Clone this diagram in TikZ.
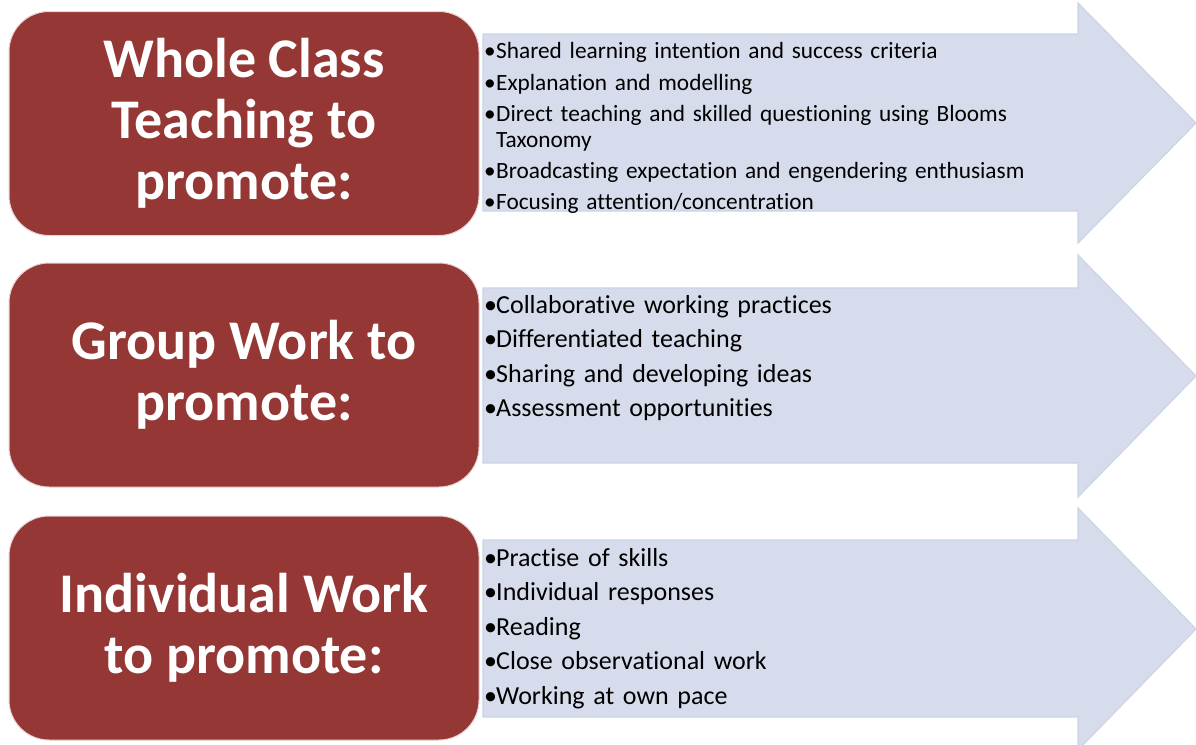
\documentclass[tikz,border=0pt]{standalone}
\usepackage{fontspec}
\setmainfont{Carlito}[Ligatures=NoCommon]
\definecolor{boxred}{HTML}{953735}
\definecolor{boxedge}{HTML}{E8D2D2}
\definecolor{arrowfill}{HTML}{D6DCEB}
\definecolor{arrowedge}{HTML}{CCD4E6}
\newlength\bulw
\setlength\bulw{12pt}
\newcommand{\bitem}[1]{\par\hangindent=\bulw\hangafter=1\noindent\makebox[\bulw][l]{•}#1}
\begin{document}
\begin{tikzpicture}[x=1pt,y=-1pt,
  titlebox/.style={draw=boxedge, line width=1pt, fill=boxred, rounded corners=40pt,
    minimum width=470pt, minimum height=224pt, text=white, align=center,
    font=\fontsize{56}{61}\selectfont\bfseries},
  arrowshape/.style={fill=arrowfill, draw=arrowedge, line width=1.2pt, line join=miter},
  listtext/.style={anchor=north west, inner sep=0pt, text width=560pt, align=left}]
\useasboundingbox (0,0) rectangle (1196,744);
\fill[white] (0,0) rectangle (1196,744);
% arrows
\begin{scope}
\clip (0,0) rectangle (1196,744);
\draw[arrowshape] (483,34) -- (1078,34) -- (1078,3) -- (1196,123) -- (1078,243) -- (1078,211) -- (483,211) -- cycle;
\draw[arrowshape] (483,288) -- (1078,288) -- (1078,255) -- (1196,376) -- (1078,497) -- (1078,463) -- (483,463) -- cycle;
\draw[arrowshape] (483,540) -- (1078,540) -- (1078,508) -- (1196,629) -- (1078,750) -- (1078,717) -- (483,717) -- cycle;
\end{scope}
% title boxes
\node[titlebox] (t1) at (244,123.5) {Whole Class\\Teaching to\\promote:};
\node[titlebox] (t2) at (244,375) {Group Work to\\promote:};
\node[titlebox] (t3) at (244,628) {Individual Work\\to promote:};
% lists
\node[listtext, font=\fontsize{23.3}{26}\selectfont] (l1) at (484,27.5) {\setlength\parskip{5.2pt}%
\bitem{Shared learning intention and success criteria}
\bitem{Explanation and modelling}
\bitem{Direct teaching and skilled questioning using Blooms Taxonomy}
\bitem{Broadcasting expectation and engendering enthusiasm}
\bitem{Focusing attention/concentration}};
\node[listtext, font=\fontsize{26}{28}\selectfont] (l2) at (484,278.5) {\setlength\parskip{6.5pt}%
\bitem{Collaborative working practices}
\bitem{Differentiated teaching}
\bitem{Sharing and developing ideas}
\bitem{Assessment opportunities}};
\node[listtext, font=\fontsize{26}{28}\selectfont] (l3) at (484,531.5) {\setlength\parskip{6.5pt}%
\bitem{Practise of skills}
\bitem{Individual responses}
\bitem{Reading}
\bitem{Close observational work}
\bitem{Working at own pace}};
\end{tikzpicture}
\end{document}
